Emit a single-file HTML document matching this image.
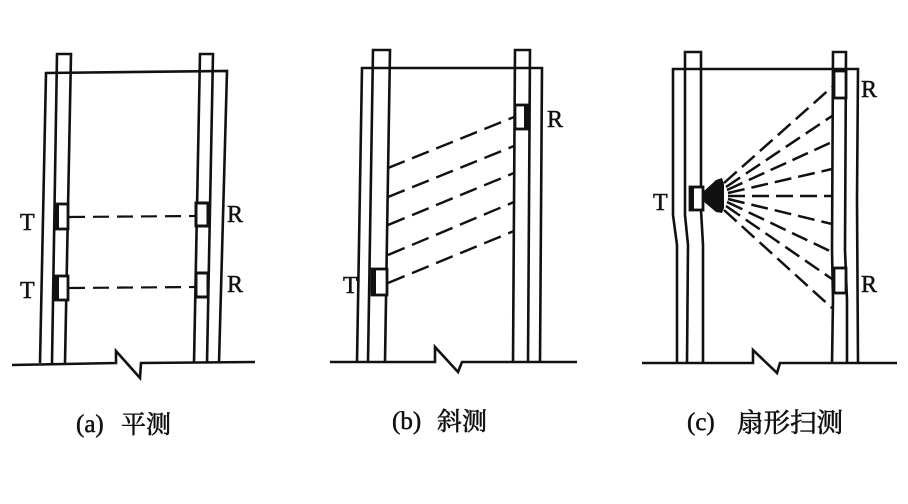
<!DOCTYPE html>
<html><head><meta charset="utf-8"><style>
html,body{margin:0;padding:0;background:#fff;}
svg{display:block;}
text{font-family:"Liberation Serif","Noto Serif CJK SC",serif;fill:#111;}
.cj{font-family:"Liberation Serif","Noto Sans CJK SC",sans-serif;}
</style></head><body>
<svg width="908" height="504" viewBox="0 0 908 504" xmlns="http://www.w3.org/2000/svg">
<g stroke="#111" stroke-width="2.6" fill="none" stroke-linejoin="miter">
<!-- Panel a -->
<path d="M52,363 L57,54 L71,54 L65,363"/>
<path d="M40,363 L46,73 L227,71 L219,363"/>
<path d="M194,363 L200,54 L213,54 L207,363"/>
<rect x="55" y="204" width="13" height="25" fill="#fff" stroke-width="2.8"/>
<rect x="55" y="204" width="4" height="25" fill="#111" stroke="none"/>
<rect x="55" y="276" width="13" height="24" fill="#fff" stroke-width="2.8"/>
<rect x="55" y="276" width="4" height="24" fill="#111" stroke="none"/>
<rect x="196" y="203" width="12" height="23" fill="#fff" stroke-width="3"/>
<rect x="196" y="273" width="12" height="24" fill="#fff" stroke-width="3"/>
<path d="M69,217 L196,216" stroke-dasharray="16,8" stroke-width="2.2"/>
<path d="M69,288 L196,287" stroke-dasharray="16,8" stroke-width="2.2"/>
<path d="M12,365 L116,363 L116,351 L140,378 L141,363 L255,362"/>
<!-- Panel b -->
<path d="M368,362 L373,50 L390,50 L385,362"/>
<path d="M357,362 L362,68 L542,68 L540,362"/>
<path d="M513,362 L515,50 L530,50 L528,362"/>
<rect x="372" y="269" width="15" height="26" fill="#fff" stroke-width="2.8"/>
<rect x="372" y="269" width="4" height="26" fill="#111" stroke="none"/>
<rect x="515" y="105" width="13" height="24" fill="#fff" stroke-width="2.8"/>
<rect x="524" y="105" width="4" height="24" fill="#111" stroke="none"/>
<g stroke-dasharray="18,8" stroke-width="2.4">
<path d="M388,168 L514,117"/>
<path d="M388,197 L514,146"/>
<path d="M388,225 L514,173"/>
<path d="M388,255 L514,202"/>
<path d="M388,283 L514,231"/>
</g>
<path d="M330,362 L435,362 L435,347 L458,372 L462,362 L577,362"/>
<!-- Panel c -->
<path d="M687,363 L688,245 L685,215 L685,52 L701,52 L701,210 L703,245 L703,363"/>
<path d="M677,363 L677,245 L673,215 L673,69 L858,69 L857,200 L858,363"/>
<path d="M832,363 L833,300 L832,250 L833,52 L846,52 L845,250 L847,300 L847,363"/>
<rect x="690" y="187" width="13" height="23" fill="#fff" stroke-width="2.8"/>
<rect x="690" y="187" width="4" height="23" fill="#111" stroke="none"/>
<rect x="834" y="71" width="12" height="27" fill="#fff" stroke-width="2.8"/>
<rect x="834" y="268" width="12" height="25" fill="#fff" stroke-width="2.8"/>
<polygon points="703,192 716,180 722,178 724,184 724,208 722,213 716,212 703,201" fill="#111" stroke="none"/>
<g stroke-dasharray="17,7" stroke-width="2.5">
<path d="M724,183 L832,87"/>
<path d="M726,187 L832,116"/>
<path d="M727,190 L832,142"/>
<path d="M728,193 L832,169"/>
<path d="M728,196 L832,196"/>
<path d="M728,199 L832,224"/>
<path d="M727,202 L832,252"/>
<path d="M726,206 L832,279"/>
<path d="M724,210 L832,308"/>
</g>
<path d="M642,363 L753,363 L753,350 L777,373 L780,363 L897,363"/>
</g>
<!-- Labels -->
<g font-size="24" stroke="#111" stroke-width="0.5">
<text x="20" y="230">T</text>
<text x="20" y="298">T</text>
<text x="227" y="222">R</text>
<text x="227" y="292">R</text>
<text x="343" y="293">T</text>
<text x="547" y="127">R</text>
<text x="653" y="210">T</text>
<text x="861" y="97">R</text>
<text x="861" y="292">R</text>
</g>
<g font-size="25" stroke="#111" stroke-width="0.5">
<text x="76" y="432">(a)</text>
<text x="392" y="429">(b)</text>
<text x="687" y="430">(c)</text>
</g>
<g class="cj" font-size="25" stroke="#111" stroke-width="0.6">
<text x="121" y="433">平测</text>
<text x="437" y="430">斜测</text>
<text x="737" y="432" font-size="26.5">扇形扫测</text>
</g>
</svg>
</body></html>
